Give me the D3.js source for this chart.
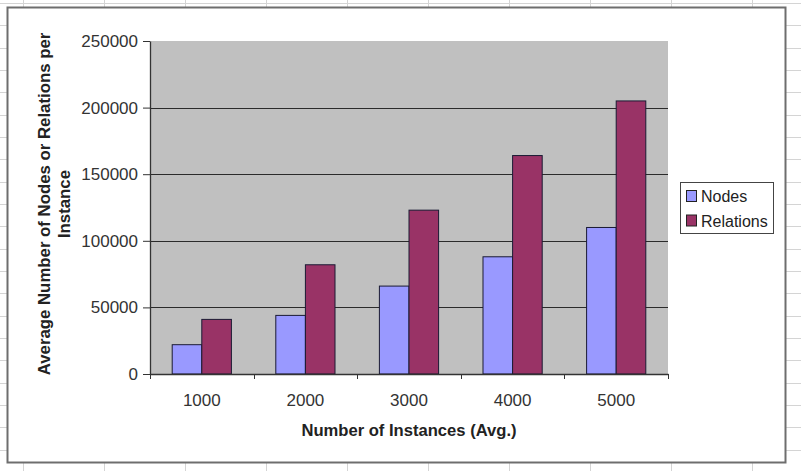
<!DOCTYPE html>
<html>
<head>
<meta charset="utf-8">
<script src="https://cdn.jsdelivr.net/npm/d3@7"></script>
<style>
  body { margin: 0; padding: 0; background: #fff; }
  svg { display: block; font-family: "Liberation Sans", Arial, sans-serif; }
</style>
</head>
<body>
<script>
// chart data
var categories = ["1000", "2000", "3000", "4000", "5000"];
var seriesNames = ["Nodes", "Relations"];
var nodes     = [22000, 44000, 66000, 88000, 110000];
var relations = [41000, 82000, 123000, 164000, 205000];
var yTicks    = [0, 50000, 100000, 150000, 200000, 250000];

var colors = { Nodes: "#9999ff", Relations: "#993366" };

var W = 801, H = 471;
var plot = { left: 150, top: 41, right: 668, bottom: 374 };

var svg = d3.select("body").append("svg")
  .attr("width", W)
  .attr("height", H);

svg.append("rect").attr("width", W).attr("height", H).attr("fill", "#fff");

// spreadsheet cells behind the chart object
var sheet = svg.append("g").attr("stroke", "#d4d4d4").attr("stroke-width", 1);
d3.range(23, W, 81).forEach(function (x) {
  sheet.append("line").attr("x1", x + 0.5).attr("x2", x + 0.5).attr("y1", 0).attr("y2", H);
});
d3.range(3, H, 22.33).forEach(function (y) {
  sheet.append("line").attr("x1", 0).attr("x2", W).attr("y1", Math.round(y) + 0.5).attr("y2", Math.round(y) + 0.5);
});

// chart area
svg.append("rect")
  .attr("x", 7.5).attr("y", 7.5)
  .attr("width", 778).attr("height", 455)
  .attr("fill", "#fff")
  .attr("stroke", "#6e6e6e")
  .attr("stroke-width", 2);

var x0 = d3.scaleBand().domain(categories).range([plot.left, plot.right]);
var bw = x0.bandwidth();
var x1 = d3.scaleBand().domain(seriesNames).range([bw * 0.75 / 3.5, bw * 2.75 / 3.5]);
var y = d3.scaleLinear().domain([0, 250000]).range([plot.bottom, plot.top]);

// plot area
svg.append("rect")
  .attr("x", plot.left).attr("y", plot.top)
  .attr("width", plot.right - plot.left).attr("height", plot.bottom - plot.top)
  .attr("fill", "#c0c0c0");

// gridlines
svg.append("g").selectAll("line")
  .data(yTicks.filter(function (d) { return d > 0 && d < 250000; }))
  .join("line")
  .attr("x1", plot.left).attr("x2", plot.right)
  .attr("y1", function (d) { return Math.round(y(d)) + 0.5; })
  .attr("y2", function (d) { return Math.round(y(d)) + 0.5; })
  .attr("stroke", "#2b2b2b")
  .attr("stroke-width", 1.2);

// bars
var rows = categories.map(function (c, i) {
  return { cat: c, vals: [{ key: "Nodes", v: nodes[i] }, { key: "Relations", v: relations[i] }] };
});

svg.append("g").selectAll("g")
  .data(rows)
  .join("g")
  .attr("transform", function (d) { return "translate(" + x0(d.cat) + ",0)"; })
  .selectAll("rect")
  .data(function (d) { return d.vals; })
  .join("rect")
  .attr("x", function (d) { return x1(d.key); })
  .attr("y", function (d) { return y(d.v); })
  .attr("width", x1.bandwidth())
  .attr("height", function (d) { return y(0) - y(d.v); })
  .attr("fill", function (d) { return colors[d.key]; })
  .attr("stroke", "#1a1a33")
  .attr("stroke-width", 1);

// y axis
var yAxis = svg.append("g")
  .attr("transform", "translate(" + plot.left + ",0)")
  .call(d3.axisLeft(y).tickValues(yTicks).tickFormat(d3.format("d"))
    .tickSize(7).tickPadding(5).tickSizeOuter(0));
yAxis.select(".domain").attr("stroke", "#333").attr("stroke-width", 1.3);
yAxis.selectAll(".tick line").attr("stroke", "#333");
yAxis.selectAll("text")
  .attr("font-size", 17)
  .attr("fill", "#333")
  .attr("font-family", "Liberation Sans, Arial, sans-serif");

// x axis: labels at band centres, ticks at band edges
var xAxis = svg.append("g")
  .attr("transform", "translate(0," + plot.bottom + ")")
  .call(d3.axisBottom(x0).tickSize(0).tickPadding(20).tickSizeOuter(0));
xAxis.select(".domain").attr("stroke", "#333").attr("stroke-width", 1.3);
xAxis.selectAll("text")
  .attr("font-size", 17)
  .attr("fill", "#333")
  .attr("font-family", "Liberation Sans, Arial, sans-serif");

var edges = categories.map(function (c) { return x0(c); }).concat([plot.right]);
svg.append("g").selectAll("line")
  .data(edges)
  .join("line")
  .attr("x1", function (d) { return Math.round(d) + 0.5; })
  .attr("x2", function (d) { return Math.round(d) + 0.5; })
  .attr("y1", plot.bottom)
  .attr("y2", plot.bottom + 5)
  .attr("stroke", "#333");

// axis titles
svg.append("text")
  .attr("x", (plot.left + plot.right) / 2)
  .attr("y", 436)
  .attr("text-anchor", "middle")
  .attr("font-size", 16.6)
  .attr("font-weight", "bold")
  .attr("fill", "#222")
  .text("Number of Instances (Avg.)");

var yTitle = svg.append("text")
  .attr("transform", "translate(0,204) rotate(-90)")
  .attr("text-anchor", "middle")
  .attr("font-size", 16.8)
  .attr("font-weight", "bold")
  .attr("fill", "#222");
yTitle.append("tspan").attr("x", 0).attr("y", 50).text("Average Number of Nodes or Relations per");
yTitle.append("tspan").attr("x", 0).attr("y", 70).text("Instance");

// legend
var legend = svg.append("g");
legend.append("rect")
  .attr("x", 680.5).attr("y", 182.5)
  .attr("width", 93).attr("height", 51)
  .attr("fill", "#fff")
  .attr("stroke", "#444")
  .attr("stroke-width", 1);

var li = legend.selectAll("g")
  .data(seriesNames)
  .join("g")
  .attr("transform", function (d, i) { return "translate(686," + (190 + i * 24.5) + ")"; });
li.append("rect")
  .attr("x", 0.5).attr("y", 0.5)
  .attr("width", 10).attr("height", 11)
  .attr("fill", function (d) { return colors[d]; })
  .attr("stroke", "#222");
li.append("text")
  .attr("x", 15)
  .attr("y", 12)
  .attr("font-size", 16)
  .attr("fill", "#222")
  .text(function (d) { return d; });
</script>
</body>
</html>
